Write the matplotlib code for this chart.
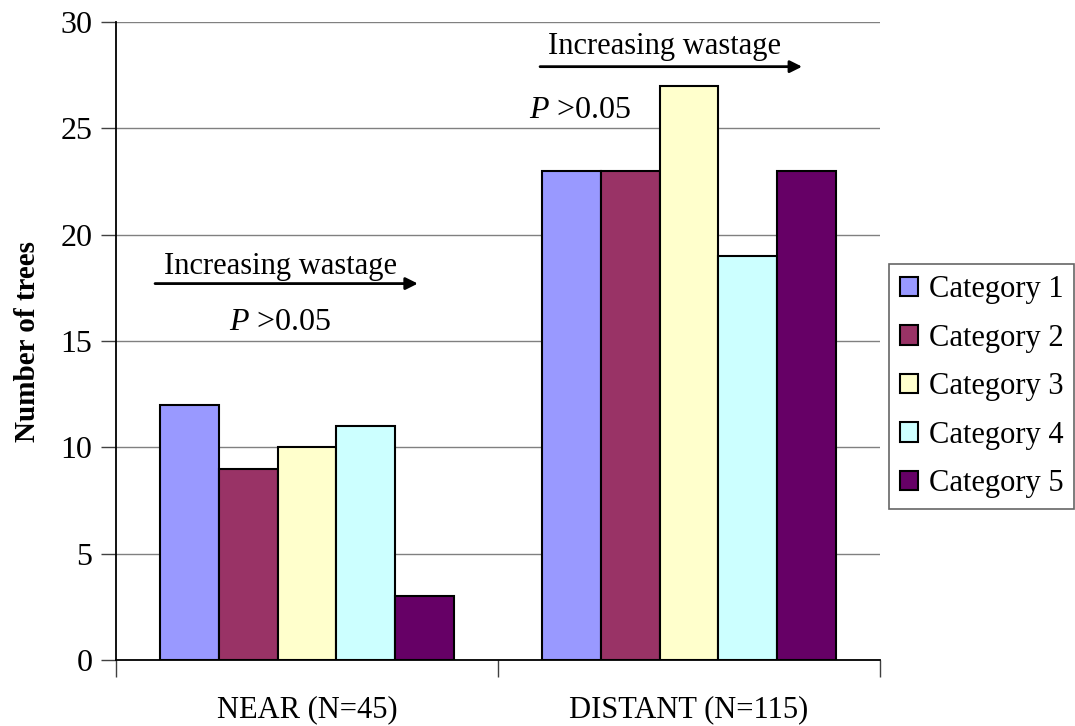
import numpy as np
import matplotlib.pyplot as plt

plt.rcParams['font.family'] = ['Liberation Serif', 'DejaVu Serif']
plt.rcParams['mathtext.fontset'] = 'custom'
plt.rcParams['mathtext.it'] = 'Liberation Serif:italic'
plt.rcParams['mathtext.rm'] = 'Liberation Serif'

groups = ['NEAR (N=45)', 'DISTANT (N=115)']
series = ['Category 1', 'Category 2', 'Category 3', 'Category 4', 'Category 5']
values = [
    [12, 23],
    [9, 23],
    [10, 27],
    [11, 19],
    [3, 23],
]
colors = ['#9999FF', '#993366', '#FFFFCC', '#CCFFFF', '#660066']

fig = plt.figure(figsize=(10.75, 7.26), dpi=100)
ax = fig.add_axes([0.108, 0.0909, 0.7106, 0.8788])

n = len(series)
w = 1.0 / (n + 1.5)
x = np.arange(len(groups))
for i, (name, vals) in enumerate(zip(series, values)):
    ax.bar(x + (i - (n - 1) / 2) * w, vals, width=w, color=colors[i],
           edgecolor='black', linewidth=1.5, label=name, zorder=3)

ax.set_xlim(-0.5, 1.5)
ax.set_ylim(0, 30)
ax.set_yticks(range(0, 31, 5))
ax.yaxis.grid(True, color='#808080', linewidth=1, zorder=0)
ax.set_xticks([-0.5, 0.5, 1.5])
ax.set_xticklabels([])
ax.set_xticks(x, minor=True)
ax.set_xticklabels(groups, minor=True, fontsize=22)
ax.tick_params(axis='x', which='minor', length=0, pad=25)
ax.tick_params(axis='x', which='major', length=12, width=1, color='#404040')
ax.tick_params(axis='y', length=11, width=1, color='#404040', labelsize=23, pad=6)

for s in ['top', 'right']:
    ax.spines[s].set_visible(False)
for s in ['left', 'bottom']:
    ax.spines[s].set_linewidth(1.3)
    ax.spines[s].set_zorder(4)

ax.set_ylabel('Number of trees', fontsize=21, fontweight='bold', labelpad=14)

# annotations: text, arrow, p-value for each group
for tx, ty, ax0, ax1, ay, px, py in [(-0.375, 18.5, -0.398, 0.29, 17.7, -0.205, 15.85),
                                      (0.631, 28.85, 0.61, 1.296, 27.9, 0.58, 25.85)]:
    ax.text(tx, ty, 'Increasing wastage', fontsize=22, ha='left', va='center', zorder=5)
    ax.annotate('', xy=(ax1, ay), xytext=(ax0, ay),
                arrowprops=dict(arrowstyle='-|>', color='black', lw=2,
                                mutation_scale=18, shrinkA=0, shrinkB=0), zorder=5)
    ax.text(px, py, r'$P$ >0.05', fontsize=23, ha='left', va='center', zorder=5)

leg = ax.legend(loc='upper left', bbox_to_anchor=(1.012, 0.62), fontsize=22,
                frameon=True, fancybox=False, edgecolor='#404040',
                handlelength=0.6, handleheight=0.6, handletextpad=0.35,
                labelspacing=0.64, borderpad=0.35, borderaxespad=0)
leg.get_frame().set_linewidth(1.2)

fig.savefig('out.png', dpi=100)
